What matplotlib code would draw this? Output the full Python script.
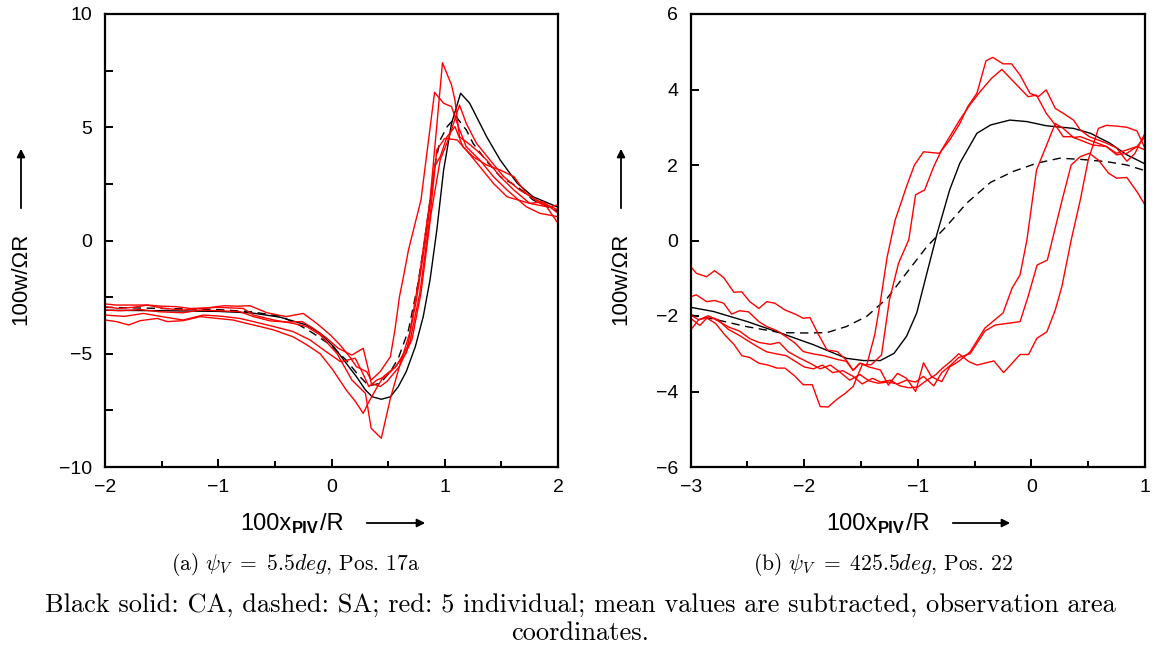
import numpy as np
import matplotlib
matplotlib.use("Agg")
import matplotlib.pyplot as plt
from matplotlib.ticker import MultipleLocator

plt.rcParams['font.family'] = ['Liberation Sans', 'DejaVu Sans']
plt.rcParams['mathtext.fontset'] = 'cm'

# ---- panel (a): psi_V = 5.5 deg, Pos. 17a ----
ca_a_x = [-2.0, -1.5, -1.0, -0.7, -0.45, -0.22, -0.10, 0.02, 0.13, 0.22, 0.30, 0.36, 0.44, 0.52, 0.59,
          0.66, 0.74, 0.81, 0.87, 0.93, 0.99, 1.06, 1.14, 1.22, 1.37, 1.49, 1.64, 1.78, 2.0]
ca_a_y = [-3.08, -3.1, -3.13, -3.2, -3.39, -3.73, -4.1, -4.69, -5.42, -6.01, -6.6, -6.9, -7.01, -6.9, -6.45,
          -5.79, -4.69, -3.36, -1.74, 0.46, 3.11, 5.17, 6.5, 6.06, 4.58, 3.55, 2.53, 1.93, 1.47]
sa_a_x = [-2.0, -1.5, -1.0, -0.7, -0.45, -0.31, -0.16, -0.01, 0.13, 0.23, 0.33, 0.43, 0.52, 0.59, 0.68,
          0.71, 0.76, 0.81, 0.86, 0.91, 0.96, 1.02, 1.10, 1.19, 1.25, 1.37, 1.49, 1.64, 1.78, 2.0]
sa_a_y = [-2.95, -3.0, -3.05, -3.15, -3.35, -3.66, -4.1, -4.61, -5.28, -5.9, -6.42, -6.3, -5.79, -5.2, -3.95,
          -3.21, -2.0, -0.41, 1.4, 3.26, 4.44, 5.02, 5.47, 4.88, 4.29, 3.5, 2.82, 2.38, 1.79, 1.28]

red_a1 = [(-2.0, -2.80), (-1.9, -2.85), (-1.78, -2.85), (-1.63, -2.85), (-1.5, -2.9), (-1.37, -2.92),
          (-1.25, -3.0), (-1.1, -2.98), (-0.95, -2.88), (-0.83, -2.9), (-0.72, -2.88), (-0.57, -3.19),
          (-0.40, -3.36), (-0.25, -3.22), (-0.13, -3.66), (-0.01, -4.17), (0.075, -4.61), (0.16, -5.13),
          (0.22, -5.57), (0.31, -5.79), (0.35, -6.16), (0.43, -5.79), (0.52, -5.13), (0.56, -3.95),
          (0.60, -2.48), (0.63, -1.74), (0.68, -0.41), (0.79, 1.79), (0.91, 6.54), (0.99, 6.06),
          (1.06, 5.91), (1.12, 5.03), (1.19, 4.14), (1.31, 3.55), (1.43, 2.82), (1.55, 2.23),
          (1.72, 1.49), (1.84, 1.2), (2.0, 1.05)]
red_a2 = [(-2.0, -2.92), (-1.88, -3.0), (-1.75, -2.95), (-1.63, -2.85), (-1.48, -3.0), (-1.31, -3.07),
          (-1.16, -3.0), (-1.01, -2.95), (-0.78, -3.0), (-0.69, -3.29), (-0.51, -3.51), (-0.34, -3.66),
          (-0.22, -3.80), (-0.10, -4.17), (0.05, -5.0), (0.18, -6.16), (0.30, -6.75), (0.35, -8.29),
          (0.44, -8.73), (0.52, -6.97), (0.60, -5.56), (0.69, -4.09), (0.78, -1.44), (0.87, 1.79),
          (0.98, 7.85), (1.06, 6.86), (1.09, 6.2), (1.13, 4.58), (1.19, 4.36), (1.28, 3.99), (1.37, 3.55),
          (1.49, 2.82), (1.61, 2.23), (1.75, 1.64), (1.90, 1.49), (2.0, 0.76)]
red_a3 = [(-2.0, -3.51), (-1.9, -3.58), (-1.79, -3.73), (-1.69, -3.54), (-1.54, -3.44), (-1.45, -3.58),
          (-1.31, -3.54), (-1.16, -3.36), (-1.01, -3.44), (-0.87, -3.51), (-0.75, -3.66), (-0.63, -3.8),
          (-0.51, -3.95), (-0.34, -4.25), (-0.22, -4.6), (-0.10, -5.0), (0.01, -5.7), (0.13, -6.6),
          (0.21, -7.1), (0.28, -7.63), (0.33, -7.12), (0.40, -6.5), (0.46, -6.0), (0.57, -5.56),
          (0.69, -4.53), (0.78, -2.32), (0.87, 1.06), (0.93, 4.0), (1.0, 4.51), (1.11, 4.44), (1.19, 3.99),
          (1.31, 3.26), (1.43, 2.52), (1.55, 1.93), (1.75, 1.64), (1.87, 1.71), (2.0, 1.2)]
red_a4 = [(-2.0, -3.07), (-1.87, -3.1), (-1.69, -3.05), (-1.51, -3.15), (-1.31, -3.19), (-1.16, -3.07),
          (-1.01, -3.1), (-0.81, -3.14), (-0.69, -3.36), (-0.54, -3.55), (-0.40, -3.6), (-0.26, -3.58),
          (-0.16, -3.88), (-0.04, -4.32), (0.06, -4.76), (0.18, -5.06), (0.28, -4.76), (0.33, -5.79),
          (0.35, -6.30), (0.43, -6.45), (0.49, -6.22), (0.60, -5.56), (0.71, -4.38), (0.79, -2.32),
          (0.88, 1.21), (0.96, 3.56), (1.03, 4.44), (1.13, 5.98), (1.19, 5.17), (1.28, 4.29), (1.40, 3.55),
          (1.52, 2.82), (1.66, 2.23), (1.81, 1.79), (2.0, 1.35)]
red_a5 = [(-2.0, -3.29), (-1.83, -3.35), (-1.66, -3.22), (-1.45, -3.4), (-1.31, -3.51), (-1.13, -3.29),
          (-0.96, -3.35), (-0.81, -3.44), (-0.69, -3.58), (-0.51, -3.80), (-0.34, -4.02), (-0.19, -4.39),
          (-0.05, -4.9), (0.08, -5.35), (0.21, -5.2), (0.27, -5.8), (0.33, -6.45), (0.40, -6.16),
          (0.48, -6.0), (0.56, -5.6), (0.66, -4.97), (0.75, -2.62), (0.84, 0.32), (0.91, 3.26), (0.96, 3.7),
          (1.02, 4.58), (1.09, 5.03), (1.16, 4.14), (1.25, 3.7), (1.37, 3.33), (1.49, 3.11), (1.61, 2.82),
          (1.72, 2.08), (1.84, 1.64), (1.93, 1.49), (2.0, 1.57)]

# ---- panel (b): psi_V = 425.5 deg, Pos. 22 ----
ca_b_x = [-3.0, -2.8, -2.5, -2.21, -1.92, -1.63, -1.48, -1.33, -1.21, -1.10, -1.01, -0.92, -0.83, -0.72,
          -0.63, -0.48, -0.36, -0.19, -0.04, 0.13, 0.37, 0.52, 0.69, 0.84, 1.0]
ca_b_y = [-1.77, -1.88, -2.15, -2.45, -2.76, -3.12, -3.18, -3.18, -2.99, -2.54, -1.92, -0.86, 0.19, 1.34,
          2.05, 2.84, 3.06, 3.19, 3.15, 3.04, 2.97, 2.84, 2.58, 2.27, 2.03]
sa_b_x = [-3.0, -2.8, -2.51, -2.21, -1.98, -1.80, -1.63, -1.45, -1.27, -1.10, -0.92, -0.75, -0.57, -0.36,
          -0.16, 0.05, 0.25, 0.43, 0.66, 0.84, 1.0]
sa_b_y = [-1.97, -2.08, -2.28, -2.44, -2.45, -2.44, -2.28, -2.01, -1.53, -0.86, -0.16, 0.37, 0.99, 1.54,
          1.83, 2.05, 2.18, 2.15, 2.09, 2.0, 1.85]

red_b1 = [(-3.0, -1.49), (-2.95, -1.44), (-2.86, -1.62), (-2.79, -1.59), (-2.71, -1.66), (-2.64, -1.95),
          (-2.57, -1.86), (-2.49, -1.89), (-2.40, -2.15), (-2.33, -2.28), (-2.24, -2.39), (-2.16, -2.55),
          (-2.08, -2.72), (-2.01, -2.94), (-1.93, -3.0), (-1.83, -3.05), (-1.71, -3.15), (-1.63, -3.2),
          (-1.57, -3.44), (-1.51, -3.25), (-1.45, -3.3), (-1.38, -2.5), (-1.33, -1.62), (-1.27, -0.43),
          (-1.20, 0.54), (-1.14, 1.07), (-1.10, 1.43), (-1.03, 2.0), (-0.95, 2.35), (-0.81, 2.31),
          (-0.72, 2.66), (-0.63, 3.1), (-0.56, 3.55), (-0.48, 3.9), (-0.40, 4.76), (-0.34, 4.85),
          (-0.25, 4.68), (-0.175, 4.68), (-0.10, 4.38), (-0.013, 3.9), (0.06, 3.81), (0.13, 3.99),
          (0.21, 3.5), (0.28, 3.37), (0.37, 3.19), (0.43, 2.93), (0.51, 2.75), (0.66, 2.58), (0.75, 2.45),
          (0.84, 2.1), (0.91, 2.3), (1.0, 2.84)]
red_b2 = [(-3.0, -1.97), (-2.93, -2.1), (-2.86, -2.05), (-2.78, -2.2), (-2.70, -2.5), (-2.62, -2.75),
          (-2.55, -3.05), (-2.48, -3.1), (-2.40, -3.25), (-2.32, -3.3), (-2.24, -3.38), (-2.17, -3.38),
          (-2.08, -3.6), (-2.01, -3.82), (-1.93, -3.82), (-1.86, -4.4), (-1.79, -4.41), (-1.71, -4.2),
          (-1.64, -4.05), (-1.57, -3.87), (-1.49, -3.29), (-1.41, -3.29), (-1.32, -3.03), (-1.25, -1.57),
          (-1.17, -0.6), (-1.08, 0.02), (-1.02, 1.21), (-0.94, 1.34), (-0.86, 1.96), (-0.79, 2.4),
          (-0.70, 2.85), (-0.63, 3.2), (-0.54, 3.6), (-0.45, 3.95), (-0.35, 4.3), (-0.26, 4.53),
          (-0.10, 4.03), (-0.03, 3.81), (0.045, 3.85), (0.13, 3.37), (0.21, 3.06), (0.28, 2.75),
          (0.35, 2.75), (0.43, 2.66), (0.54, 2.53), (0.66, 2.49), (0.75, 2.27), (0.84, 2.31), (0.93, 2.49),
          (1.0, 2.4)]
red_b3 = [(-3.0, -0.69), (-2.95, -0.87), (-2.86, -0.96), (-2.79, -0.80), (-2.71, -0.98), (-2.62, -1.37),
          (-2.55, -1.36), (-2.48, -1.62), (-2.40, -1.80), (-2.33, -1.62), (-2.26, -1.66), (-2.17, -1.84),
          (-2.08, -1.95), (-2.01, -2.06), (-1.95, -2.04), (-1.88, -2.46), (-1.80, -2.90), (-1.71, -2.94),
          (-1.63, -3.17), (-1.57, -3.44), (-1.51, -3.25), (-1.43, -3.35), (-1.33, -3.43), (-1.26, -3.83),
          (-1.18, -3.52), (-1.10, -3.65), (-1.02, -4.0), (-0.95, -3.24), (-0.88, -3.61), (-0.79, -3.74),
          (-0.72, -3.35), (-0.64, -3.2), (-0.54, -2.95), (-0.41, -2.32), (-0.25, -1.92), (-0.17, -1.26),
          (-0.10, -0.91), (-0.04, 0.01), (0.045, 1.87), (0.13, 2.5), (0.21, 3.1), (0.28, 2.97),
          (0.37, 2.73), (0.43, 2.75), (0.51, 2.66), (0.66, 2.49), (0.75, 2.31), (0.84, 2.4), (0.93, 2.49),
          (1.0, 2.75)]
red_b4 = [(-3.0, -2.06), (-2.92, -2.25), (-2.84, -2.0), (-2.75, -2.15), (-2.66, -2.3), (-2.57, -2.4),
          (-2.48, -2.6), (-2.40, -2.7), (-2.30, -2.75), (-2.22, -2.7), (-2.14, -2.95), (-2.05, -3.1),
          (-1.95, -3.25), (-1.86, -3.4), (-1.77, -3.3), (-1.68, -3.5), (-1.60, -3.7), (-1.51, -3.55),
          (-1.43, -3.72), (-1.35, -3.78), (-1.26, -3.75), (-1.18, -3.8), (-1.10, -3.7), (-1.02, -3.75),
          (-0.95, -3.6), (-0.86, -3.85), (-0.79, -3.5), (-0.71, -3.3), (-0.64, -3.1), (-0.54, -3.0),
          (-0.41, -2.4), (-0.32, -2.24), (-0.10, -2.15), (-0.03, -1.49), (0.05, -0.65), (0.14, -0.52),
          (0.27, 1.07), (0.35, 2.0), (0.43, 2.22), (0.51, 2.31), (0.59, 2.13), (0.68, 1.78), (0.75, 1.65),
          (0.84, 1.67), (0.93, 1.29), (1.0, 0.94)]
red_b5 = [(-3.0, -2.37), (-2.93, -2.1), (-2.85, -2.0), (-2.76, -2.1), (-2.67, -2.35), (-2.58, -2.5),
          (-2.50, -2.65), (-2.42, -2.8), (-2.33, -2.95), (-2.25, -3.0), (-2.16, -3.05), (-2.08, -3.2),
          (-2.00, -3.35), (-1.92, -3.4), (-1.84, -3.3), (-1.75, -3.5), (-1.66, -3.45), (-1.57, -3.6),
          (-1.49, -3.8), (-1.40, -3.65), (-1.33, -3.75), (-1.24, -3.7), (-1.16, -3.85), (-1.08, -3.9),
          (-1.00, -3.88), (-0.92, -3.7), (-0.84, -3.55), (-0.79, -3.4), (-0.71, -3.2), (-0.64, -3.0),
          (-0.55, -3.21), (-0.48, -3.3), (-0.33, -3.19), (-0.245, -3.5), (-0.10, -3.02), (-0.025, -3.02),
          (0.048, -2.59), (0.136, -2.42), (0.21, -1.84), (0.268, -1.22), (0.35, 0.01), (0.43, 1.07),
          (0.50, 2.13), (0.59, 2.97), (0.66, 3.05), (0.75, 3.03), (0.84, 3.0), (0.93, 2.9), (1.0, 2.44)]

reds_a = [red_a1, red_a2, red_a3, red_a4, red_a5]
reds_b = [red_b1, red_b2, red_b3, red_b4, red_b5]

W, H = 1152, 651
fig = plt.figure(figsize=(W / 100, H / 100), dpi=100)
ax1 = fig.add_axes([105 / W, 1 - 467 / H, 453 / W, 453 / H])
ax2 = fig.add_axes([690.7 / W, 1 - 467 / H, 454.3 / W, 453 / H])


def draw_panel(ax, ca_x, ca_y, sa_x, sa_y, reds):
    ax.plot(ca_x, ca_y, color='black', lw=1.0)
    ax.plot(sa_x, sa_y, color='black', lw=1.0, dashes=(6, 4))
    for r in reds:
        xy = np.array(r)
        ax.plot(xy[:, 0], xy[:, 1], color='#ff0000', lw=1.0)
    for s in ax.spines.values():
        s.set_linewidth(1.6)
    ax.tick_params(which='both', direction='in', top=False, right=False,
                   width=1.4, labelsize=14, pad=9)
    ax.tick_params(which='major', length=6)
    ax.tick_params(which='minor', length=4)


draw_panel(ax1, ca_a_x, ca_a_y, sa_a_x, sa_a_y, reds_a)
ax1.set_xlim(-2, 2)
ax1.set_ylim(-10, 10)
ax1.xaxis.set_major_locator(MultipleLocator(1))
ax1.xaxis.set_minor_locator(MultipleLocator(0.5))
ax1.yaxis.set_major_locator(MultipleLocator(5))
ax1.yaxis.set_minor_locator(MultipleLocator(2.5))
ax1.tick_params(axis='y', which='minor', length=6)

draw_panel(ax2, ca_b_x, ca_b_y, sa_b_x, sa_b_y, reds_b)
ax2.set_xlim(-3, 1)
ax2.set_ylim(-6, 6)
ax2.xaxis.set_major_locator(MultipleLocator(1))
ax2.xaxis.set_minor_locator(MultipleLocator(0.5))
ax2.yaxis.set_major_locator(MultipleLocator(2))

arrow_style = dict(arrowstyle='-|>', lw=1.3, color='black', mutation_scale=12)


def ylabel(xc):
    fig.text(xc / W, 1 - 279 / H, "100w/ΩR", rotation=90, ha='center', va='center', fontsize=16)
    fig.add_artist(plt.Annotation("", xy=(xc, H - 146), xytext=(xc, H - 211),
                                  xycoords='figure pixels', textcoords='figure pixels',
                                  arrowprops=arrow_style))


def xlabel(x0, a0, a1):
    t = fig.text(x0 / W, 1 - 530 / H, "100x", ha='left', va='baseline', fontsize=17)
    sub = plt.Annotation("PIV", xy=(1, 0), xycoords=t, xytext=(0.5, -1), textcoords='offset points',
                         fontsize=12, fontweight='bold', ha='left', va='bottom')
    fig.add_artist(sub)
    fig.add_artist(plt.Annotation("/R", xy=(1, 0), xycoords=(sub, t), xytext=(0.5, 0),
                                  textcoords='offset points', fontsize=17, ha='left', va='bottom'))
    fig.add_artist(plt.Annotation("", xy=(a1, H - 523), xytext=(a0, H - 523),
                                  xycoords='figure pixels', textcoords='figure pixels',
                                  arrowprops=arrow_style))


ylabel(21)
ylabel(621)
xlabel(240, 364, 428)
xlabel(826, 950, 1013)

cap = dict(fontfamily='cmr10', math_fontfamily='cm', ha='center', va='center')
fig.text(295 / W, 1 - 565 / H, r"(a) $\psi_V\ =\ 5.5deg$, Pos. 17a", fontsize=15.5, **cap)
fig.text(883 / W, 1 - 565 / H, r"(b) $\psi_V\ =\ 425.5deg$, Pos. 22", fontsize=15.5, **cap)
fig.text(580 / W, 1 - 605 / H,
         "Black solid: CA, dashed: SA; red: 5 individual; mean values are subtracted, observation area",
         fontsize=19, **cap)
fig.text(580 / W, 1 - 633 / H, "coordinates.", fontsize=19, **cap)

fig.savefig("out.png", dpi=100)
